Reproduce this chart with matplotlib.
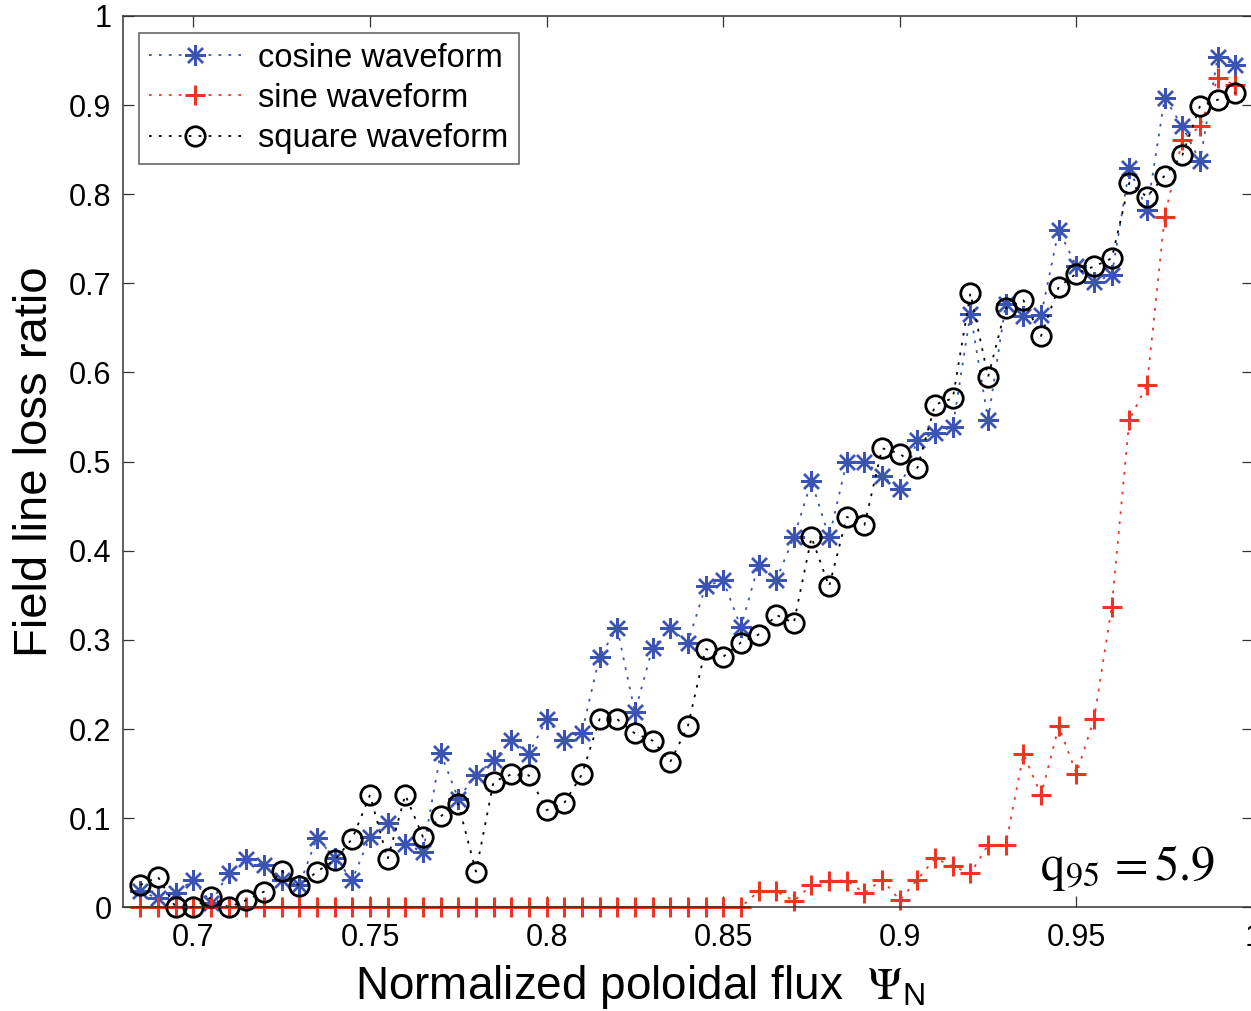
import numpy as np
import matplotlib
matplotlib.use('Agg')
import matplotlib.pyplot as plt

plt.rcParams['font.family'] = ['Liberation Sans', 'DejaVu Sans']
plt.rcParams['mathtext.fontset'] = 'stix'

psi = [0.685, 0.69, 0.695, 0.70, 0.705, 0.71, 0.715, 0.72, 0.725, 0.73,
       0.735, 0.74, 0.745, 0.75, 0.755, 0.76, 0.765, 0.77, 0.775, 0.78,
       0.785, 0.79, 0.795, 0.80, 0.805, 0.81, 0.815, 0.82, 0.825, 0.83,
       0.835, 0.84, 0.845, 0.85, 0.855, 0.86, 0.865, 0.87, 0.875, 0.88,
       0.885, 0.89, 0.895, 0.90, 0.905, 0.91, 0.915, 0.92, 0.925, 0.93,
       0.935, 0.94, 0.945, 0.95, 0.955, 0.96, 0.965, 0.97, 0.975, 0.98,
       0.985, 0.99, 0.995]

cosine = [0.018, 0.010, 0.016, 0.031, 0.005, 0.039, 0.054, 0.047, 0.031, 0.025,
          0.078, 0.055, 0.031, 0.079, 0.094, 0.071, 0.062, 0.173, 0.122, 0.148,
          0.165, 0.188, 0.172, 0.211, 0.188, 0.196, 0.281, 0.313, 0.219, 0.291,
          0.313, 0.297, 0.360, 0.367, 0.314, 0.384, 0.367, 0.415, 0.478, 0.415,
          0.500, 0.500, 0.484, 0.469, 0.524, 0.532, 0.539, 0.666, 0.547, 0.677,
          0.663, 0.664, 0.760, 0.719, 0.702, 0.709, 0.829, 0.782, 0.908, 0.876,
          0.837, 0.954, 0.945]

sine = [0, 0, 0, 0, 0, 0, 0, 0, 0, 0,
        0, 0, 0, 0, 0, 0, 0, 0, 0, 0,
        0, 0, 0, 0, 0, 0, 0, 0, 0, 0,
        0, 0, 0, 0, 0, 0.018, 0.018, 0.007, 0.025, 0.030,
        0.030, 0.016, 0.031, 0.008, 0.031, 0.055, 0.046, 0.038, 0.070, 0.070,
        0.172, 0.126, 0.203, 0.150, 0.211, 0.337, 0.547, 0.586, 0.775, 0.861,
        0.876, 0.930, 0.923]

square = [0.025, 0.034, 0.0, 0.0, 0.011, 0.0, 0.008, 0.0175, 0.041, 0.024,
          0.040, 0.053, 0.077, 0.126, 0.054, 0.126, 0.079, 0.102, 0.116, 0.040,
          0.141, 0.149, 0.148, 0.109, 0.117, 0.149, 0.211, 0.211, 0.195, 0.187,
          0.163, 0.203, 0.290, 0.281, 0.297, 0.306, 0.328, 0.319, 0.415, 0.360,
          0.438, 0.429, 0.515, 0.509, 0.493, 0.564, 0.571, 0.689, 0.595, 0.672,
          0.681, 0.641, 0.696, 0.711, 0.719, 0.728, 0.813, 0.797, 0.821, 0.844,
          0.899, 0.906, 0.914]

blue = '#3b53b2'
red = '#ee3524'
dots = (0, (1.5, 4))

fig = plt.figure(figsize=(12.51, 10.11), dpi=100)
ax = fig.add_axes([0.0981, 0.1026, 0.9035, 0.8816])

ax.plot(psi, cosine, color=blue, ls=dots, lw=1.3, marker=(8, 2, 0),
        ms=15, mew=1.7, label='cosine waveform', clip_on=False)
ax.plot(psi, sine, color=red, ls=dots, lw=1.3, marker='+',
        ms=15, mew=2.2, label='sine waveform', clip_on=False)
ax.plot(psi, square, color='black', ls=dots, lw=1.3, marker='o',
        ms=14, mew=2.0, mfc='none', label='square waveform', clip_on=False)

ax.set_xlim(0.68, 1.0)
ax.set_ylim(0, 1)
ax.set_xticks([0.7, 0.75, 0.8, 0.85, 0.9, 0.95, 1.0])
ax.set_xticklabels(['0.7', '0.75', '0.8', '0.85', '0.9', '0.95', '1'])
ax.set_yticks(np.arange(0, 1.01, 0.1))
ax.set_yticklabels(['0', '0.1', '0.2', '0.3', '0.4', '0.5', '0.6', '0.7', '0.8', '0.9', '1'])
ax.tick_params(direction='in', length=8, width=0.9, labelsize=22,
               top=True, right=True, color='#333333')
ax.tick_params(axis='x', pad=11)
ax.tick_params(axis='y', pad=8)
for s in ax.spines.values():
    s.set_linewidth(1.1)
    s.set_color('#333333')

ax.set_ylabel('Field line loss ratio', fontsize=34)
ax.yaxis.set_label_coords(-0.0585, 0.5)
ax.set_xlabel(r'Normalized poloidal flux  $\Psi_{\mathregular{N}}$', fontsize=33)
ax.xaxis.set_label_coords(0.4577, -0.062)

ax.text(0.8116, 0.031, r'$\mathrm{q}_{95}\, = 5.9$', transform=ax.transAxes,
        fontsize=35, va='baseline', ha='left')

leg = ax.legend(loc='upper left', fontsize=23.5, handlelength=2.8, handletextpad=0.55,
                borderpad=0.3, labelspacing=0.28, fancybox=False, borderaxespad=0,
                bbox_to_anchor=(0.0147, 0.981))
leg.get_frame().set_edgecolor('#333333')
leg.get_frame().set_linewidth(1.1)

fig.savefig('out.png', dpi=100)
